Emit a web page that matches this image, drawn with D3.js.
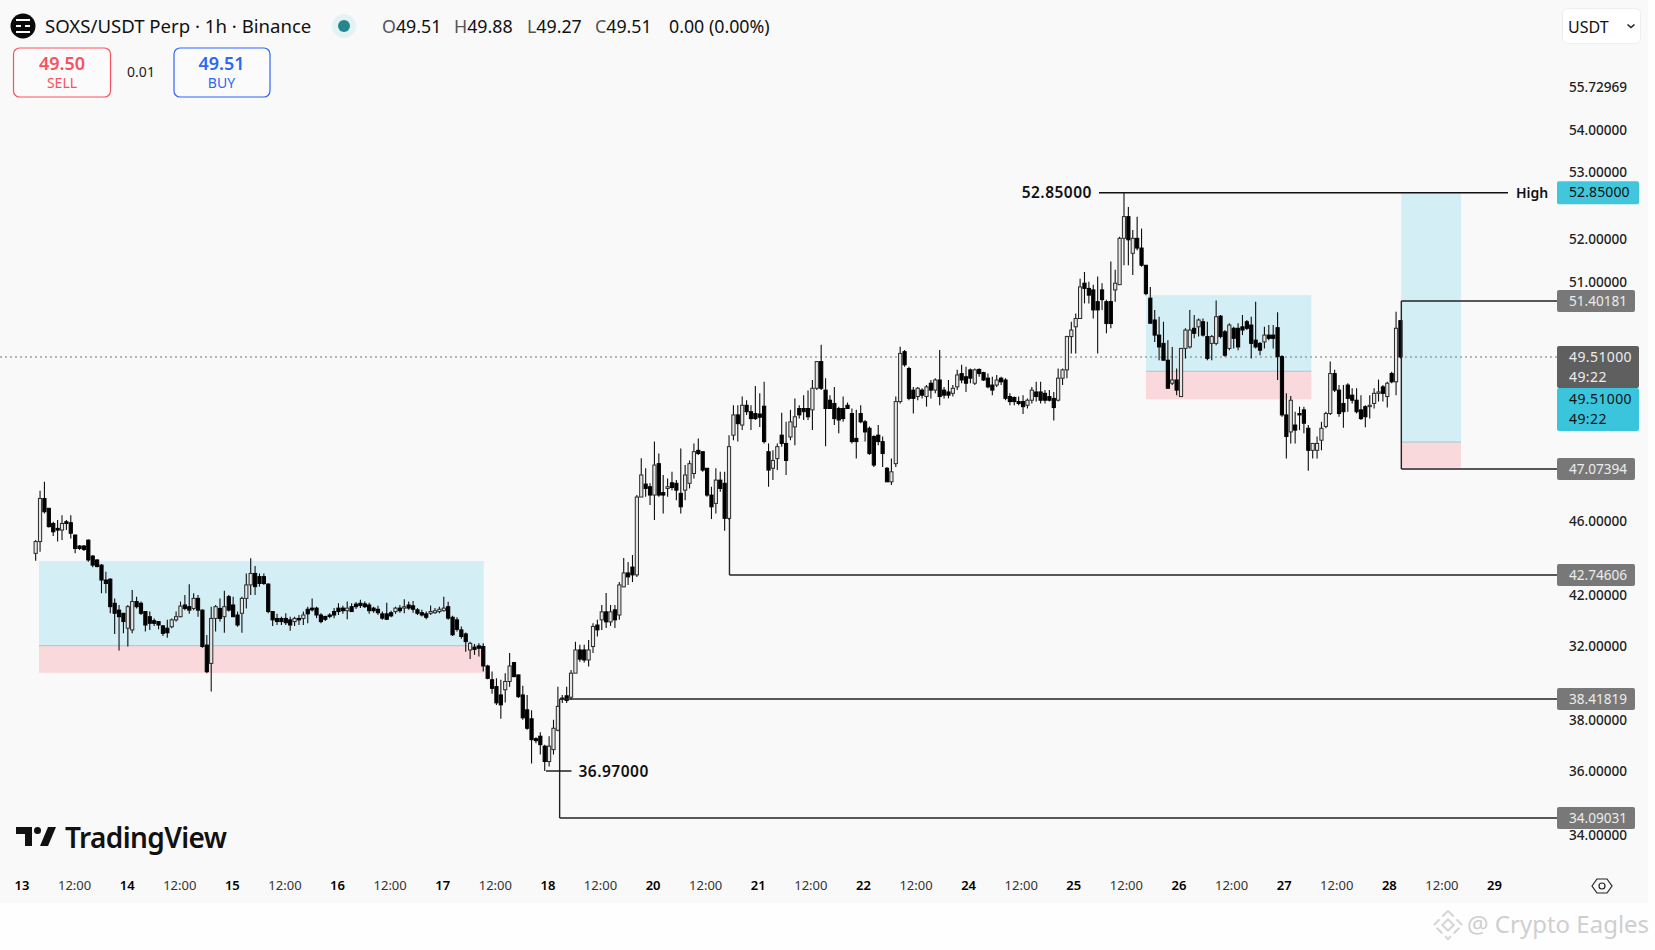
<!DOCTYPE html>
<html>
<head>
<meta charset="utf-8">
<title>SOXS/USDT Perp</title>
<script src="https://cdn.jsdelivr.net/npm/d3@7"></script>
<style>
  html, body { margin: 0; padding: 0; background: #fff; }
  svg { display: block; }
  text { font-family: "Noto Sans", sans-serif; }
</style>
</head>
<body>
<script>
// hourly candles, first one is hour 3 after the 13th 00:00
var firstHour = 3;

var opens = [
43.63,44.11,45.87,45.47,44.85,44.65,44.58,44.92,44.88,44.38,
43.93,43.93,44.17,43.52,43.36,43.15,42.57,42.60,41.76,41.52,
41.41,40.89,40.83,41.82,41.76,41.47,41.29,41.15,41.12,40.97,
40.89,40.94,41.18,41.29,41.70,41.64,41.58,41.93,41.52,40.30,
39.66,41.23,41.58,41.29,41.99,41.70,41.35,41.41,41.93,42.40,
42.81,42.69,42.69,42.43,41.47,41.23,41.23,41.23,41.18,41.12,
41.23,41.23,41.55,41.59,41.59,41.35,41.30,41.35,41.47,41.59,
41.59,41.50,41.64,41.73,41.76,41.74,41.70,41.59,41.55,41.39,
41.39,41.43,41.47,41.59,41.59,41.70,41.67,41.53,41.43,41.39,
41.41,41.43,41.47,41.50,41.64,41.27,41.18,40.83,40.69,40.13,
40.23,40.27,40.25,39.57,39.09,38.85,38.56,38.74,39.03,39.69,
39.26,38.56,38.20,38.02,37.62,37.67,37.47,37.16,37.40,37.79,
38.45,38.53,38.48,39.32,40.13,40.13,39.78,40.25,41.00,41.18,
41.46,41.11,41.53,41.35,42.33,42.83,43.07,42.75,45.93,46.46,
46.35,46.01,47.19,46.11,46.28,46.51,46.49,46.08,46.21,46.49,
46.89,47.48,47.45,47.09,46.01,45.67,46.62,46.49,45.06,47.81,
48.25,48.03,48.46,48.32,48.28,48.27,48.44,47.45,47.09,47.30,
47.81,47.63,47.77,47.99,48.39,48.39,48.39,48.36,48.83,49.41,
48.79,48.57,48.50,48.39,48.39,48.46,48.28,47.74,48.28,48.10,
47.96,47.78,47.81,47.67,47.09,46.55,47.19,48.54,49.69,49.26,
48.79,48.65,48.79,48.65,48.94,48.79,49.01,48.79,48.75,48.72,
48.86,49.15,49.08,49.23,48.94,49.24,49.17,49.05,48.90,48.90,
49.05,49.01,48.65,48.63,48.54,48.54,48.46,48.57,48.75,48.75,
48.72,48.65,48.61,48.57,49.05,49.23,50.20,50.53,50.81,51.64,
51.57,51.55,51.38,51.55,51.38,51.38,51.55,51.62,52.24,52.53,
52.04,52.24,52.11,51.88,51.44,50.76,50.25,49.97,49.44,48.94,
49.01,48.65,49.80,49.85,50.48,50.53,50.70,50.20,49.97,49.97,
50.89,50.36,49.80,50.48,50.48,50.53,50.70,50.59,50.08,49.97,
50.02,50.25,50.25,50.50,49.52,48.25,47.88,48.03,48.28,48.36,
47.96,47.48,47.48,47.70,48.00,48.28,49.15,48.79,48.50,48.90,
48.68,48.57,48.36,48.43,48.43,48.50,48.72,48.86,48.65,49.15,
48.97,50.74
];
var highs = [
44.17,46.19,46.55,45.47,44.92,44.99,45.19,44.99,45.19,44.38,
43.97,43.97,44.20,43.56,43.39,43.19,42.88,42.63,41.93,41.70,
41.41,41.70,42.22,41.99,41.82,41.47,41.47,41.23,41.12,41.00,
41.18,41.23,41.47,41.82,42.05,42.42,42.11,42.05,41.55,40.65,
41.64,41.70,41.93,42.20,42.05,41.99,41.47,41.99,42.81,43.43,
43.11,42.81,42.81,42.45,41.47,41.39,41.29,41.41,41.29,41.29,
41.35,41.47,41.64,41.93,41.64,41.41,41.32,41.41,41.59,41.76,
41.67,41.82,41.76,41.80,41.88,41.82,41.78,41.64,41.67,41.47,
41.78,41.50,41.64,41.70,41.90,41.82,41.84,41.59,41.53,41.47,
41.68,41.59,41.64,41.99,41.81,41.32,41.27,40.95,40.74,40.42,
40.34,40.36,40.36,39.61,39.38,39.14,39.09,39.32,40.02,39.69,
39.26,38.88,38.56,38.19,37.65,37.75,37.50,37.67,38.00,38.85,
38.56,38.85,39.43,40.42,40.31,40.31,40.48,41.06,41.18,41.70,
42.12,41.70,41.70,42.50,43.44,43.28,43.56,46.01,47.31,47.09,
46.49,47.67,47.41,46.83,46.69,46.96,46.62,47.52,47.16,47.26,
47.63,47.74,47.45,47.09,46.35,47.09,46.96,46.96,47.81,48.46,
48.46,48.65,48.57,48.46,48.88,48.72,48.97,47.63,47.48,47.63,
48.30,48.10,48.36,48.61,48.46,48.68,48.78,49.01,49.41,49.92,
49.05,48.68,48.86,48.43,48.65,48.52,48.39,48.36,48.46,48.14,
48.00,47.81,48.03,47.78,47.12,47.30,48.65,49.86,49.75,49.30,
48.86,48.86,48.83,48.90,49.01,49.05,49.75,48.86,49.01,48.90,
49.23,49.34,49.30,49.26,49.26,49.26,49.19,49.15,49.08,49.12,
49.08,49.05,48.72,48.65,48.65,48.68,48.61,48.86,48.97,48.97,
48.79,48.79,48.75,49.26,49.26,50.23,50.70,50.98,51.70,51.79,
51.66,51.62,51.73,51.64,51.42,51.93,51.82,52.26,52.85,52.66,
52.35,52.53,52.37,51.88,51.59,51.10,50.87,50.70,50.08,49.85,
49.26,49.80,50.48,51.10,50.93,50.81,50.81,50.70,50.25,51.41,
50.93,50.42,50.65,50.53,50.65,50.93,50.76,50.87,51.38,50.02,
50.53,50.59,50.59,51.02,49.57,48.72,48.66,48.32,48.43,48.43,
48.03,47.63,47.78,48.10,48.32,49.41,49.23,48.90,48.90,48.94,
48.83,48.83,48.68,48.46,48.68,48.83,49.02,48.90,48.97,49.19,
51.04,50.74
];
var lows = [
43.33,43.70,45.26,44.69,44.34,44.11,44.17,44.58,44.24,43.63,
43.77,43.73,43.29,43.06,43.06,42.11,42.11,41.41,40.69,40.11,
40.71,40.25,40.71,41.58,41.35,40.77,40.83,40.97,40.85,40.62,
40.56,40.89,41.12,41.27,41.52,41.39,41.52,41.29,40.21,39.32,
38.68,40.77,41.12,40.73,41.47,41.29,40.94,40.73,41.58,42.05,
42.05,42.34,42.40,41.41,40.97,41.00,41.00,41.00,40.80,40.97,
41.00,41.00,41.06,41.47,41.24,41.06,41.14,41.24,41.24,41.35,
41.39,41.20,41.47,41.56,41.59,41.59,41.39,41.43,41.35,41.18,
41.18,41.27,41.39,41.43,41.41,41.53,41.43,41.35,41.30,41.20,
41.35,41.39,41.41,41.47,41.18,40.62,40.77,40.52,40.07,39.81,
39.96,39.90,39.38,39.11,38.60,38.30,38.02,38.35,38.85,39.18,
38.45,38.00,37.80,37.12,37.53,37.30,36.97,37.06,37.30,37.77,
38.34,38.34,38.40,39.38,39.72,39.69,39.55,40.02,40.60,40.83,
40.90,40.97,40.90,41.18,42.33,42.40,42.50,42.68,45.93,45.94,
45.60,44.99,45.94,45.26,45.94,46.21,45.80,45.26,45.80,46.28,
46.69,47.38,46.96,45.94,45.03,45.26,46.14,44.55,44.99,47.70,
47.67,47.92,48.25,47.92,48.14,47.99,47.63,46.35,46.62,47.03,
47.56,46.83,47.70,47.59,48.17,48.14,48.14,47.92,48.79,48.79,
47.57,48.39,48.03,47.85,48.10,48.39,47.63,47.30,48.07,47.67,
47.38,47.12,47.59,47.12,46.55,46.42,47.12,48.50,49.30,48.57,
48.28,48.57,48.61,48.43,48.61,48.72,48.46,48.61,48.61,48.65,
48.79,48.94,48.75,48.94,48.90,49.08,48.99,48.83,48.68,48.86,
48.90,48.57,48.46,48.46,48.46,48.27,48.39,48.50,48.54,48.50,
48.50,48.54,48.13,48.54,48.90,49.05,49.63,49.63,50.81,51.32,
51.32,50.81,49.63,51.10,50.31,50.48,51.38,51.62,51.88,51.88,
51.75,52.08,51.86,51.48,50.65,50.02,49.44,49.44,48.83,48.90,
48.68,48.65,49.48,49.80,50.14,50.20,50.20,49.44,49.44,49.91,
50.14,49.52,49.74,49.80,49.74,50.25,50.42,49.48,49.80,49.57,
49.80,50.08,49.80,49.01,48.21,47.30,47.63,47.63,47.92,47.85,
47.00,47.30,47.30,47.48,47.96,48.25,48.75,48.21,47.97,48.32,
48.50,48.28,48.14,47.98,48.17,48.39,48.54,48.54,48.41,48.94,
48.68,49.48
];
var closes = [
44.11,45.87,45.33,44.72,44.51,44.58,44.85,44.85,44.45,43.83,
43.83,43.79,43.36,43.15,43.09,42.57,42.45,41.64,41.41,41.29,
41.12,41.64,41.82,41.64,41.41,41.00,41.06,41.06,41.00,40.71,
40.73,41.18,41.29,41.66,41.58,41.52,41.93,41.52,40.25,39.37,
41.23,41.64,41.23,41.64,41.52,41.29,41.00,41.93,42.40,42.81,
42.34,42.45,42.45,41.47,41.18,41.12,41.12,41.08,41.00,41.23,
41.18,41.35,41.39,41.53,41.35,41.12,41.20,41.30,41.35,41.47,
41.50,41.59,41.47,41.64,41.68,41.64,41.50,41.50,41.43,41.24,
41.20,41.32,41.59,41.50,41.64,41.59,41.55,41.41,41.35,41.27,
41.47,41.50,41.55,41.59,41.24,40.66,40.85,40.60,40.42,40.36,
40.15,40.19,39.57,39.14,38.79,38.34,38.30,39.03,39.57,39.20,
38.50,38.04,37.83,37.60,37.58,37.50,37.16,37.47,37.83,38.27,
38.42,38.39,39.32,40.13,39.81,39.78,40.13,40.95,40.83,41.46,
41.11,41.46,41.18,42.40,42.83,42.68,42.75,45.93,46.83,46.28,
46.01,47.16,46.01,46.01,46.35,46.32,46.21,45.53,46.83,47.19,
47.45,47.41,47.03,46.01,45.53,46.62,46.28,45.06,47.56,48.25,
48.06,48.46,48.32,48.17,48.17,48.20,47.67,47.03,47.26,47.56,
47.63,47.26,48.10,48.21,48.25,48.32,48.21,48.83,49.41,48.83,
48.39,48.39,48.17,48.14,48.17,48.39,47.67,47.67,48.10,47.88,
47.41,47.16,47.67,47.41,46.55,46.96,48.54,49.63,49.34,48.61,
48.61,48.83,48.68,48.86,48.79,49.01,48.65,48.68,48.68,48.83,
49.12,49.01,48.94,49.05,49.23,49.15,49.01,48.86,48.79,49.01,
48.97,48.61,48.54,48.54,48.50,48.43,48.57,48.79,48.65,48.57,
48.57,48.57,48.41,49.05,49.23,50.20,50.42,50.81,51.59,51.57,
51.48,51.10,51.10,51.42,50.64,50.64,51.64,52.24,52.53,52.22,
52.24,52.11,51.88,51.50,50.65,50.25,49.85,49.44,48.83,49.01,
48.79,49.80,50.42,50.42,50.31,50.76,50.25,49.48,50.20,50.87,
50.20,49.57,50.59,50.14,49.85,50.42,50.48,49.97,49.85,49.74,
50.25,50.14,50.14,49.52,48.25,47.78,48.57,47.92,48.25,48.07,
47.48,47.63,47.63,47.96,48.28,49.15,48.79,48.28,48.32,48.61,
48.57,48.32,48.17,48.21,48.46,48.72,48.75,48.72,48.94,48.97,
50.48,49.51
];

// axis labels as printed, the 40 level is printed 32.00000 in the picture
var axisLevels = [55.72969, 54, 53, 52, 51, 46, 42, 40, 38, 36, 34];
var axisLabels = ["55.72969", "54.00000", "53.00000", "52.00000", "51.00000", "46.00000", "42.00000", "32.00000", "38.00000", "36.00000", "34.00000"];

var xTickHours = [0,12,24,36,48,60,72,84,96,108,120,132,144,156,168,180,192,204,216,228,240,252,264,276,288,300,312,324,336];
var xTickLabels = ["13","12:00","14","12:00","15","12:00","16","12:00","17","12:00","18","12:00","20","12:00","21","12:00","22","12:00","24","12:00","25","12:00","26","12:00","27","12:00","28","12:00","29"];

// blue/pink zones
var zoneStart = [3.76, 256, 314.2];
var zoneEnd = [105.1, 293.7, 327.8];
var zoneTop = [43.32, 51.48, 52.85];
var zoneSplit = [40.28, 49.2, 47.66];
var zoneBottom = [39.33, 48.59, 47.1];

// tagged levels
var priceLevels = [55.72969, 52.85, 51.40181, 49.51, 47.07394, 42.74606, 38.41819, 36.97, 34.09031];
var grayTags = ["51.40181", "47.07394", "42.74606", "38.41819", "34.09031"];
var grayTagLevels = [51.40181, 47.07394, 42.74606, 38.41819, 34.09031];
var grayTagFrom = [314.2, 314.2, 161.1, 122.4, 122.4];
var highPrice = 52.85, lowPrice = 36.97, lastPrice = 49.51;

var width = 1655, height = 950;
var panelW = 1648, panelH = 903;
var tagX = 1557, tagW = 78, tagTextX = 1569;

var svg = d3.select("body").append("svg").attr("width", width).attr("height", height);

var blur = svg.append("defs").append("filter").attr("id", "soft")
  .attr("x", "-2%").attr("y", "-2%").attr("width", "104%").attr("height", "104%");
blur.append("feGaussianBlur").attr("stdDeviation", 0.3);

svg.append("rect").attr("width", width).attr("height", height).attr("fill", "#fefefe");
svg.append("rect").attr("width", panelW).attr("height", panelH).attr("fill", "#f9f9f9");

var x = d3.scaleLinear().domain([0, 336]).range([22.5, 1497]);
// time labels sit a touch tighter than the candles in the picture
var xLabels = d3.scaleLinear().domain([0, 336]).range([21.5, 1494]);

// the printed ticks and the printed tags do not sit on one common scale in the
// picture, so candles and tags use priceY and the tick labels their own axisY
var priceY = d3.scaleLinear().domain(priceLevels).range([87, 192.7, 301, 357, 469, 575, 699, 771, 818]);
var axisY = d3.scaleLinear().domain(axisLevels).range([87, 130, 172, 239, 282, 521, 595, 646, 720, 771, 835]);

// zones
zoneStart.forEach(function(s, i) {
  svg.append("rect").attr("x", x(s)).attr("width", x(zoneEnd[i]) - x(s))
    .attr("y", priceY(zoneTop[i])).attr("height", priceY(zoneSplit[i]) - priceY(zoneTop[i]))
    .attr("fill", "#d3eef5");
  svg.append("rect").attr("x", x(s)).attr("width", x(zoneEnd[i]) - x(s))
    .attr("y", priceY(zoneSplit[i])).attr("height", priceY(zoneBottom[i]) - priceY(zoneSplit[i]))
    .attr("fill", "#f9d9db");
  svg.append("line").attr("x1", x(s)).attr("x2", x(zoneEnd[i]))
    .attr("y1", priceY(zoneSplit[i])).attr("y2", priceY(zoneSplit[i]))
    .attr("stroke", "#a9c6cc").attr("stroke-width", 1);
});

// last price dotted line
svg.append("line").attr("x1", 0).attr("x2", tagX)
  .attr("y1", priceY(lastPrice)).attr("y2", priceY(lastPrice))
  .attr("stroke", "#777").attr("stroke-width", 1).attr("stroke-dasharray", "2 3");

// candles
var candles = svg.append("g").attr("filter", "url(#soft)");
candles.selectAll("line").data(closes).enter().append("line")
  .attr("x1", function(d, i) { return x(firstHour + i); })
  .attr("x2", function(d, i) { return x(firstHour + i); })
  .attr("y1", function(d, i) { return priceY(highs[i]); })
  .attr("y2", function(d, i) { return priceY(lows[i]); })
  .attr("stroke", "#111").attr("stroke-width", 1.1);

candles.selectAll("rect").data(closes).enter().append("rect")
  .attr("x", function(d, i) { return x(firstHour + i) - 1.6; })
  .attr("width", 3.2)
  .attr("y", function(d, i) { return priceY(Math.max(opens[i], d)); })
  .attr("height", function(d, i) { return Math.max(1, Math.abs(priceY(opens[i]) - priceY(d))); })
  .attr("fill", function(d, i) { return d >= opens[i] ? "#e6e6e6" : "#050505"; })
  .attr("stroke", function(d, i) { return d >= opens[i] ? "#2a2a2a" : "#050505"; })
  .attr("stroke-width", 1);

// level lines
var lineColor = "#222";
grayTagLevels.forEach(function(p, i) {
  svg.append("line").attr("x1", x(grayTagFrom[i])).attr("x2", tagX)
    .attr("y1", priceY(p)).attr("y2", priceY(p))
    .attr("stroke", lineColor).attr("stroke-width", 1.4);
});
// verticals joining the level lines
svg.append("line").attr("x1", x(314.2)).attr("x2", x(314.2))
  .attr("y1", priceY(51.40181)).attr("y2", priceY(47.07394))
  .attr("stroke", lineColor).attr("stroke-width", 1.4);
svg.append("line").attr("x1", x(122.4)).attr("x2", x(122.4))
  .attr("y1", priceY(38.41819)).attr("y2", priceY(34.09031))
  .attr("stroke", lineColor).attr("stroke-width", 1.4);
svg.append("line").attr("x1", x(161.1)).attr("x2", x(161.1))
  .attr("y1", priceY(45.07)).attr("y2", priceY(42.74606))
  .attr("stroke", lineColor).attr("stroke-width", 1.4);

// high / low markers
svg.append("line").attr("x1", x(245.3)).attr("x2", x(338.5))
  .attr("y1", priceY(highPrice)).attr("y2", priceY(highPrice))
  .attr("stroke", "#111").attr("stroke-width", 1.4);
svg.append("text").attr("x", x(245.3) - 7).attr("y", priceY(highPrice)).attr("dy", "0.35em")
  .attr("text-anchor", "end").attr("font-size", 15.5).attr("font-weight", 600).attr("fill", "#111")
  .attr("letter-spacing", 0.5).text("52.85000");
svg.append("text").attr("x", 1516).attr("y", priceY(highPrice)).attr("dy", "0.35em")
  .attr("font-size", 14).attr("font-weight", 600).attr("fill", "#111").text("High");
svg.append("line").attr("x1", x(119.3)).attr("x2", x(125.1))
  .attr("y1", priceY(lowPrice)).attr("y2", priceY(lowPrice))
  .attr("stroke", "#111").attr("stroke-width", 1.4);
svg.append("text").attr("x", x(125.1) + 7).attr("y", priceY(lowPrice) + 1).attr("dy", "0.35em")
  .attr("font-size", 15.5).attr("font-weight", 600).attr("fill", "#111")
  .attr("letter-spacing", 0.5).text("36.97000");

// price axis
var yAxis = d3.axisRight(axisY).tickValues(axisLevels).tickSize(0)
  .tickFormat(function(d, i) { return axisLabels[i]; });
var yG = svg.append("g").attr("transform", "translate(" + tagTextX + ",0)").call(yAxis);
yG.select(".domain").remove();
yG.selectAll("text").attr("x", 0).attr("font-size", 13.6).attr("font-family", "Noto Sans").attr("fill", "#222").attr("font-weight", 500);

// tags
function tag(y, h, w, fill, color, size, spacing, lines) {
  svg.append("rect").attr("x", tagX).attr("y", y - h / 2).attr("width", w).attr("height", h)
    .attr("rx", 2).attr("fill", fill);
  lines.forEach(function(t, i) {
    svg.append("text").attr("x", tagTextX)
      .attr("y", y - h / 2 + 11 + i * 20).attr("dy", "0.35em")
      .attr("font-size", size).attr("fill", color).attr("letter-spacing", spacing).text(t);
  });
}
grayTags.forEach(function(t, i) {
  tag(priceY(grayTagLevels[i]), 22, tagW, "#787878", "#ececec", 13.6, 0, [t]);
});
tag(priceY(highPrice), 23, 82, "#42c6dc", "#111", 14, 0.1, ["52.85000"]);
tag(367, 42, 82, "#5f5f5f", "#ececec", 14, 0.4, ["49.51000", "49:22"]);
tag(409.5, 43, 82, "#3bc5dc", "#111", 14, 0.4, ["49.51000", "49:22"]);

// time axis
var xAxis = d3.axisBottom(xLabels).tickValues(xTickHours).tickSize(0)
  .tickFormat(function(d, i) { return xTickLabels[i]; });
var xG = svg.append("g").attr("transform", "translate(0,878)").call(xAxis);
xG.select(".domain").remove();
xG.selectAll("text").attr("font-size", 13).attr("font-family", "Noto Sans")
  .attr("fill", function(d, i) { return i % 2 ? "#333" : "#000"; })
  .attr("font-weight", function(d, i) { return i % 2 ? 400 : 600; });

// header
svg.append("circle").attr("cx", 23).attr("cy", 26).attr("r", 12.5).attr("fill", "#0a0a0a");
svg.append("path").attr("d", "M16 20h14M16 32h14M16 26h5M25 26h5").attr("stroke", "#f9f9f9").attr("stroke-width", 2.2);
svg.append("text").attr("x", 45).attr("y", 26.5).attr("dy", "0.35em").attr("font-size", 18.6).attr("fill", "#111")
  .text("SOXS/USDT Perp · 1h · Binance");
svg.append("circle").attr("cx", 344).attr("cy", 26).attr("r", 12).attr("fill", "#e3f3f3");
svg.append("circle").attr("cx", 344).attr("cy", 26).attr("r", 6).attr("fill", "#26858f");

var ohlcNames = ["O", "H", "L", "C"];
var ohlcValues = ["49.51", "49.88", "49.27", "49.51"];
var ohlcX = [382, 454, 527, 595];
ohlcNames.forEach(function(n, i) {
  var t = svg.append("text").attr("x", ohlcX[i]).attr("y", 26.5).attr("dy", "0.35em").attr("font-size", 17.8);
  t.append("tspan").attr("fill", "#555").text(n);
  t.append("tspan").attr("fill", "#111").text(ohlcValues[i]);
});
svg.append("text").attr("x", 669).attr("y", 26.5).attr("dy", "0.35em").attr("font-size", 17.8).attr("fill", "#111").text("0.00 (0.00%)");

// sell / buy
svg.append("rect").attr("x", 13.5).attr("y", 48).attr("width", 97).attr("height", 49).attr("rx", 6)
  .attr("fill", "#fbfbfb").attr("stroke", "#f7525f").attr("stroke-width", 1.2);
svg.append("text").attr("x", 62).attr("y", 64).attr("dy", "0.35em").attr("text-anchor", "middle")
  .attr("font-size", 18).attr("font-weight", 600).attr("fill", "#f7525f").text("49.50");
svg.append("text").attr("x", 62).attr("y", 83).attr("dy", "0.35em").attr("text-anchor", "middle")
  .attr("font-size", 14).attr("fill", "#f7525f").text("SELL");
svg.append("text").attr("x", 141).attr("y", 72.5).attr("dy", "0.35em").attr("text-anchor", "middle")
  .attr("font-size", 14).attr("fill", "#222").text("0.01");
svg.append("rect").attr("x", 174).attr("y", 48).attr("width", 96).attr("height", 49).attr("rx", 6)
  .attr("fill", "#fbfbfb").attr("stroke", "#2f66f6").attr("stroke-width", 1.2);
svg.append("text").attr("x", 221.5).attr("y", 64).attr("dy", "0.35em").attr("text-anchor", "middle")
  .attr("font-size", 18).attr("font-weight", 600).attr("fill", "#2f66f6").text("49.51");
svg.append("text").attr("x", 221.5).attr("y", 83).attr("dy", "0.35em").attr("text-anchor", "middle")
  .attr("font-size", 14).attr("fill", "#2f66f6").text("BUY");

// currency box
svg.append("rect").attr("x", 1562.5).attr("y", 8.5).attr("width", 78).attr("height", 35).attr("rx", 5)
  .attr("fill", "#fff").attr("stroke", "#eee");
svg.append("text").attr("x", 1568).attr("y", 27).attr("dy", "0.35em").attr("font-size", 16).attr("fill", "#111").text("USDT");
svg.append("path").attr("d", "M1627.5 24.5l3.5 3 3.5-3").attr("fill", "none").attr("stroke", "#222").attr("stroke-width", 1.6);

// tradingview logo
svg.append("path").attr("d", "M16 827h16v19h-7v-12h-9z").attr("fill", "#111");
svg.append("circle").attr("cx", 37.5).attr("cy", 830.5).attr("r", 3.5).attr("fill", "#111");
svg.append("path").attr("d", "M48 827h8l-8 19h-8z").attr("fill", "#111");
svg.append("text").attr("x", 65).attr("y", 838).attr("dy", "0.35em").attr("font-size", 28).attr("font-weight", 600)
  .attr("letter-spacing", -0.6).attr("fill", "#111").text("TradingView");

// settings icon
svg.append("path").attr("d", "M1592 886l5-7h10l5 7-5 7h-10z").attr("fill", "none").attr("stroke", "#222").attr("stroke-width", 1.2);
svg.append("circle").attr("cx", 1602).attr("cy", 886).attr("r", 3).attr("fill", "none").attr("stroke", "#222").attr("stroke-width", 1.2);

// watermark
var wm = svg.append("g").attr("transform", "translate(1448,925) rotate(45)").attr("fill", "none").attr("stroke", "#d4d4d4").attr("stroke-width", 2);
wm.append("rect").attr("x", -4).attr("y", -4).attr("width", 8).attr("height", 8);
wm.append("rect").attr("x", -10).attr("y", -10).attr("width", 20).attr("height", 20).attr("stroke-dasharray", "8 4");
svg.append("text").attr("x", 1467).attr("y", 925).attr("dy", "0.35em").attr("font-size", 24).attr("fill", "#cfcfcf").text("@ Crypto Eagles");
</script>
</body>
</html>
